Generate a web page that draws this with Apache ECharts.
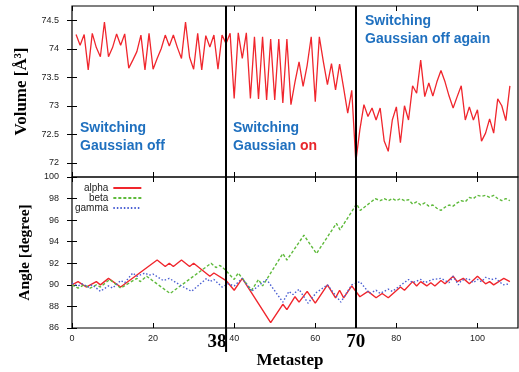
<!DOCTYPE html>
<html><head><meta charset="utf-8">
<script src="https://cdn.jsdelivr.net/npm/echarts@6/dist/echarts.min.js"></script>
<style>html,body{margin:0;padding:0;background:#fff}#c{width:519px;height:372px}</style>
</head><body><div id="c"></div>
<script>
// ---- data ----
const metasteps = [];
for (let i = 1; i <= 108; i++) metasteps.push(i);
const volume = [
74.25,74.06,74.25,73.63,74.27,74.02,73.86,74.47,73.86,74.02,
74.26,74.06,74.26,73.66,73.80,73.95,74.24,73.63,74.27,73.64,
73.83,74.00,74.24,74.05,74.24,74.02,73.83,74.47,73.85,73.64,
74.27,73.63,74.23,74.03,74.24,73.64,74.24,74.09,74.27,73.13,
74.28,73.83,74.28,73.13,74.21,73.12,74.21,73.10,74.17,73.10,
74.17,73.05,74.17,73.02,73.42,73.77,73.34,73.71,74.21,73.07,
74.21,73.77,73.37,73.74,73.28,73.73,73.31,72.87,73.27,72.02,
72.58,73.02,72.81,72.96,72.75,72.96,72.38,72.20,72.75,72.98,
72.35,73.00,72.75,73.35,73.22,73.80,73.16,73.40,73.17,73.42,
73.62,73.42,73.17,72.96,73.16,73.35,72.75,72.98,72.75,72.93,
72.38,72.52,72.77,72.52,73.12,73.00,72.74,73.35];

const alphaX = [0,1.5,3.5,6,7,9,12,21,23,24,25,27,29,30,31,34,35,38,40,42,49,52,53,55,56,58,60,63,65,66,67,69,71,73,75,76.5,78,81,82,84,85,86,87.5,88.5,89.5,91,92,94,95,96.5,98,100,102,103,104,106.5,108];
const alphaY = [90.0,90.3,89.8,90.3,90.0,90.6,89.8,92.3,91.7,92.0,91.7,92.3,91.7,92.0,91.7,90.8,91.1,90.4,89.5,90.6,86.5,88.2,87.7,88.9,88.4,89.4,88.3,90.0,88.8,89.5,88.8,89.9,88.9,89.4,88.8,89.2,88.8,89.8,89.5,90.3,89.9,90.3,89.9,90.2,89.9,90.4,90.1,90.8,90.3,90.6,90.1,90.8,90.1,90.3,90.0,90.6,90.3];

const betaX = [0,1.5,3,4.5,6,7,9.3,12,16,16.8,18.4,24.2,34.3,35.5,36.5,37.5,40,41,44.3,46,47,52,53,57.2,60.3,65.2,66.1,70.2,71.1,74.8,76,77,78,79,80,81,82,83,84,85,86,87,88,89,90,91,92,93,94,95,96,97,98,99,100,101,102,103,104,105,106,107,108];
const betaY = [90.0,89.7,90.0,89.7,90.0,89.8,90.5,89.7,90.6,90.3,90.8,89.2,92.0,91.6,91.8,91.5,90.5,91.1,89.5,90.5,89.9,92.9,92.3,94.6,92.9,95.7,95.1,97.5,96.9,98.0,97.8,98.0,97.8,98.0,97.8,98.0,97.8,97.9,97.5,97.7,97.4,97.6,97.3,97.4,97.1,96.9,97.2,97.4,97.3,97.6,97.8,97.7,98.1,98.0,98.3,98.2,98.3,98.1,98.3,98.0,97.8,98.0,97.8];

const gammaX = [0,1.5,2.5,4,5,7,9,10,12,13,15,16,18,19,20,22.5,24,27,29.5,33.2,34,35,37,38.5,40,42,44.3,48,52,53.5,54.5,56,58.2,60.3,63,66.3,69,71,73.4,75,76,78,79,80.5,83,84,86,87,89,91,93,94,95.3,96,97.7,99,100,101,102,103.5,104.5,106.3,108];
const gammaY = [90.15,89.9,90.1,89.8,90.0,89.4,89.9,89.7,90.4,90.2,91.1,90.8,91.1,90.9,91.0,90.4,90.6,89.9,89.4,90.6,90.3,90.5,89.8,90.1,89.9,90.6,89.4,90.5,88.4,89.4,89.1,89.6,88.3,89.3,90.0,88.4,90.0,90.3,89.2,89.5,89.2,89.6,89.4,89.8,90.5,90.2,90.5,90.2,90.5,90.6,90.2,90.8,90.0,90.4,90.6,90.2,90.5,90.3,90.7,90.5,90.6,90.0,90.1];

const volumeTicks = [72,72.5,73,73.5,74,74.5];
const angleTicks = [86,88,90,92,94,96,98,100];
const stepTicks = [0,20,40,60,80,100];
const markerSteps = [38, 70];
const seriesNames = ['alpha','beta','gamma'];

// ---- chart ----
const pairs = (xs, ys) => xs.map((x, i) => [x, ys[i]]);
const RED = '#f0262d', GREEN = '#5fba3c', BLUE = '#4a5fd2', TXTBLUE = '#1f70bf';
const tickLab = {fontSize: 9, color: '#222', fontFamily: 'Liberation Sans'};
const serifBold = {fontFamily: 'Liberation Serif', fontWeight: 'bold', color: '#000'};

function xAx(grid, pos, labels) {
  return {type: 'value', gridIndex: grid, position: pos, min: 0, max: 110,
    axisLine: {show: false}, splitLine: {show: false},
    axisTick: {show: true, inside: true, length: 5, customValues: stepTicks, lineStyle: {color: '#000'}},
    axisLabel: labels ? Object.assign({show: true, customValues: stepTicks, margin: 6}, tickLab) : {show: false},
    name: labels ? 'Metastep' : '', nameLocation: 'middle', nameGap: 24,
    nameTextStyle: Object.assign({fontSize: 17, padding: [0, 10, 0, 0]}, serifBold)};
}
function yAx(grid, pos, min, max, ticks, labels, name, fs) {
  return {type: 'value', gridIndex: grid, position: pos, min: min, max: max,
    axisLine: {show: false}, splitLine: {show: false},
    axisTick: {show: true, inside: true, length: 5, customValues: ticks, lineStyle: {color: '#000'}},
    axisLabel: labels ? Object.assign({show: true, customValues: ticks, margin: 13}, tickLab) : {show: false},
    name: name || '', nameLocation: 'middle', nameGap: 36,
    nameTextStyle: Object.assign({fontSize: fs || 16}, serifBold)};
}

const chart = echarts.init(document.getElementById('c'), null, {renderer: 'canvas'});
const option = {
  animation: false,
  backgroundColor: '#fff',
  grid: [
    {left: 72, right: 1, top: 6, height: 171, show: true, borderColor: '#000', borderWidth: 1.2, backgroundColor: 'transparent'},
    {left: 72, right: 1, top: 177, height: 151, show: true, borderColor: '#000', borderWidth: 1.2, backgroundColor: 'transparent'}
  ],
  xAxis: [xAx(0, 'bottom', false), xAx(0, 'top', false), xAx(1, 'bottom', true), xAx(1, 'top', false)],
  yAxis: [
    yAx(0, 'left', 71.75, 74.75, volumeTicks, true, 'Volume [Å³]', 17),
    yAx(0, 'right', 71.75, 74.75, volumeTicks, false),
    yAx(1, 'left', 86, 100, angleTicks, true, 'Angle [degree]', 15.5),
    yAx(1, 'right', 86, 100, angleTicks, false)
  ],
  legend: {
    data: seriesNames, orient: 'vertical', left: 70, top: 178, align: 'right',
    itemWidth: 28, itemHeight: 8, itemGap: 0,
    itemStyle: {opacity: 0},
    textStyle: {fontSize: 10, lineHeight: 10, color: '#222', fontFamily: 'Liberation Sans'}
  },
  series: [
    {name: 'volume', type: 'line', xAxisIndex: 0, yAxisIndex: 0, symbol: 'none',
     data: pairs(metasteps, volume), lineStyle: {color: RED, width: 1.3}, itemStyle: {color: RED},
     markLine: {silent: true, symbol: 'none', label: {show: false},
       lineStyle: {color: '#000', width: 2, type: 'solid'},
       data: markerSteps.map(s => ({xAxis: s}))}},
    {name: 'alpha', type: 'line', xAxisIndex: 2, yAxisIndex: 2, symbol: 'none',
     data: pairs(alphaX, alphaY), lineStyle: {color: RED, width: 1.4}, itemStyle: {color: RED},
     markLine: {silent: true, symbol: 'none',
       lineStyle: {color: '#000', width: 2, type: 'solid'},
       label: Object.assign({show: true, position: 'start', distance: 5, fontSize: 19}, serifBold),
       data: markerSteps.map((s, i) => ({xAxis: s, label: {formatter: String(s), offset: i === 0 ? [-9, 0] : [0, 0]}}))}},
    {name: 'beta', type: 'line', xAxisIndex: 2, yAxisIndex: 2, symbol: 'none',
     data: pairs(betaX, betaY), lineStyle: {color: GREEN, width: 1.4, type: [3, 2]}, itemStyle: {color: GREEN}},
    {name: 'gamma', type: 'line', xAxisIndex: 2, yAxisIndex: 2, symbol: 'none',
     data: pairs(gammaX, gammaY), lineStyle: {color: BLUE, width: 1.4, type: [1.5, 2]}, itemStyle: {color: BLUE}}
  ]
};
chart.setOption(option);

const annFont = 'bold 14px "Liberation Sans", Arial, sans-serif';
function ann(id, x, y, text) {
  return {id: id, type: 'text', x: x, y: y, z: 100,
    style: {text: text, font: annFont, fill: TXTBLUE, verticalAlign: 'middle'}};
}
const px38 = chart.convertToPixel({xAxisIndex: 2}, 38);
const yBottom = chart.convertToPixel({yAxisIndex: 2}, 86);
chart.setOption({
  graphic: [
    ann('a1', 80, 128, 'Switching'),
    ann('a2', 80, 146, 'Gaussian off'),
    ann('b1', 233, 128, 'Switching'),
    {id: 'b2', type: 'text', x: 233, y: 146, z: 100,
     style: {text: '{b|Gaussian }{r|on}', verticalAlign: 'middle',
       rich: {b: {font: annFont, fill: TXTBLUE}, r: {font: annFont, fill: '#e8262b'}}}},
    ann('c1', 365, 21, 'Switching'),
    ann('c2', 365, 39, 'Gaussian off again'),
    {id: 'ext38', type: 'line', z: 100,
     shape: {x1: px38, y1: yBottom, x2: px38, y2: yBottom + 24},
     style: {stroke: '#000', lineWidth: 2}}
  ]
});
</script></body></html>
